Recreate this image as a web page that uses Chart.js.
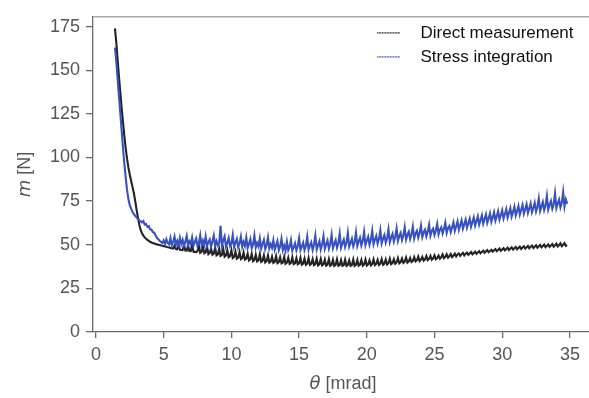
<!DOCTYPE html>
<html>
<head>
<meta charset="utf-8">
<script src="https://cdn.jsdelivr.net/npm/chart.js@4/dist/chart.umd.min.js"></script>
<style>
  html, body { margin: 0; padding: 0; background: #ffffff; }
  #plot { display: block; }
</style>
</head>
<body>
<canvas id="plot" width="589" height="398"></canvas>
<script>
// Rotation angle theta [mrad]
const theta = [
  1.4, 1.5, 1.6, 1.7, 1.8, 1.9, 2.0, 2.1, 2.2, 2.3,
  2.4, 2.5, 2.6, 2.7, 2.8, 2.9, 3.0, 3.1, 3.2, 3.3,
  3.4, 3.5, 3.6, 3.7, 3.8, 3.9, 4.0, 4.1, 4.2, 4.3,
  4.4, 4.5, 4.6, 4.7, 4.8, 4.9, 5.0, 5.1, 5.2, 5.3,
  5.4, 5.5, 5.6, 5.7, 5.8, 5.9, 6.0, 6.1, 6.2, 6.3,
  6.4, 6.5, 6.6, 6.7, 6.8, 6.9, 7.0, 7.1, 7.2, 7.3,
  7.4, 7.5, 7.6, 7.7, 7.8, 7.9, 8.0, 8.1, 8.2, 8.3,
  8.4, 8.5, 8.6, 8.7, 8.8, 8.9, 9.0, 9.1, 9.2, 9.3,
  9.4, 9.5, 9.6, 9.7, 9.8, 9.9, 10.0, 10.1, 10.2, 10.3,
  10.4, 10.5, 10.6, 10.7, 10.8, 10.9, 11.0, 11.1, 11.2, 11.3,
  11.4, 11.5, 11.6, 11.7, 11.8, 11.9, 12.0, 12.1, 12.2, 12.3,
  12.4, 12.5, 12.6, 12.7, 12.8, 12.9, 13.0, 13.1, 13.2, 13.3,
  13.4, 13.5, 13.6, 13.7, 13.8, 13.9, 14.0, 14.1, 14.2, 14.3,
  14.4, 14.5, 14.6, 14.7, 14.8, 14.9, 15.0, 15.1, 15.2, 15.3,
  15.4, 15.5, 15.6, 15.7, 15.8, 15.9, 16.0, 16.1, 16.2, 16.3,
  16.4, 16.5, 16.6, 16.7, 16.8, 16.9, 17.0, 17.1, 17.2, 17.3,
  17.4, 17.5, 17.6, 17.7, 17.8, 17.9, 18.0, 18.1, 18.2, 18.3,
  18.4, 18.5, 18.6, 18.7, 18.8, 18.9, 19.0, 19.1, 19.2, 19.3,
  19.4, 19.5, 19.6, 19.7, 19.8, 19.9, 20.0, 20.1, 20.2, 20.3,
  20.4, 20.5, 20.6, 20.7, 20.8, 20.9, 21.0, 21.1, 21.2, 21.3,
  21.4, 21.5, 21.6, 21.7, 21.8, 21.9, 22.0, 22.1, 22.2, 22.3,
  22.4, 22.5, 22.6, 22.7, 22.8, 22.9, 23.0, 23.1, 23.2, 23.3,
  23.4, 23.5, 23.6, 23.7, 23.8, 23.9, 24.0, 24.1, 24.2, 24.3,
  24.4, 24.5, 24.6, 24.7, 24.8, 24.9, 25.0, 25.1, 25.2, 25.3,
  25.4, 25.5, 25.6, 25.7, 25.8, 25.9, 26.0, 26.1, 26.2, 26.3,
  26.4, 26.5, 26.6, 26.7, 26.8, 26.9, 27.0, 27.1, 27.2, 27.3,
  27.4, 27.5, 27.6, 27.7, 27.8, 27.9, 28.0, 28.1, 28.2, 28.3,
  28.4, 28.5, 28.6, 28.7, 28.8, 28.9, 29.0, 29.1, 29.2, 29.3,
  29.4, 29.5, 29.6, 29.7, 29.8, 29.9, 30.0, 30.1, 30.2, 30.3,
  30.4, 30.5, 30.6, 30.7, 30.8, 30.9, 31.0, 31.1, 31.2, 31.3,
  31.4, 31.5, 31.6, 31.7, 31.8, 31.9, 32.0, 32.1, 32.2, 32.3,
  32.4, 32.5, 32.6, 32.7, 32.8, 32.9, 33.0, 33.1, 33.2, 33.3,
  33.4, 33.5, 33.6, 33.7, 33.8, 33.9, 34.0, 34.1, 34.2, 34.3,
  34.4, 34.5, 34.6, 34.7, 34.8
];

// Moment m [N] from the direct measurement
const directMeasurement = [
  174, 166, 156, 146, 137, 128, 120, 112, 105, 99,
  94, 90, 86.5, 83, 79.5, 75, 70, 65.5, 61.5, 58.5,
  56.5, 55.2, 54.2, 53.4, 52.8, 52.2, 51.7, 51.3, 51.0, 50.7,
  50.4, 50.2, 50.0, 49.8, 49.6, 49.4, 49.2, 49.0, 48.8, 48.6,
  48.4, 48.2, 48.0, 47.8, 49.5, 47.5, 47.4, 49.8, 47.1, 47.0,
  46.9, 50.0, 46.7, 46.6, 49.6, 46.4, 46.3, 49.9, 46.0, 45.9,
  45.8, 46.4, 49.5, 45.4, 46.0, 48.8, 45.1, 45.6, 49.2, 44.6,
  45.3, 47.9, 44.3, 44.9, 48.4, 43.9, 44.5, 47.6, 43.6, 44.2,
  47.5, 43.1, 43.8, 46.8, 42.8, 43.4, 46.9, 42.4, 43.0, 46.1,
  42.0, 42.6, 45.8, 41.7, 42.3, 45.5, 41.4, 42.0, 44.9, 41.0,
  41.7, 44.8, 40.6, 41.3, 44.3, 40.4, 41.0, 44.6, 40.2, 40.8,
  43.9, 39.9, 40.6, 43.8, 39.7, 40.3, 43.2, 39.6, 40.2, 43.5,
  39.4, 40.0, 42.9, 39.3, 39.8, 43.1, 39.1, 39.7, 42.6, 39.0,
  39.6, 42.8, 38.9, 39.4, 42.3, 38.8, 39.3, 42.5, 38.6, 39.2,
  42.1, 38.5, 39.1, 42.4, 38.4, 39.0, 41.8, 38.3, 38.9, 42.0,
  38.2, 38.8, 41.9, 38.1, 38.7, 41.5, 38.0, 38.6, 41.8, 38.0,
  38.5, 41.4, 37.9, 38.5, 41.7, 37.9, 38.4, 41.2, 37.9, 38.4,
  41.5, 37.9, 38.5, 41.0, 37.9, 38.4, 41.6, 37.9, 38.5, 41.3,
  38.0, 38.6, 41.2, 38.0, 38.7, 41.5, 38.1, 38.8, 41.1, 38.2,
  38.9, 41.6, 38.3, 39.0, 41.3, 38.4, 39.1, 41.8, 38.5, 39.2,
  41.6, 38.7, 39.4, 42.0, 38.9, 39.5, 41.7, 39.1, 39.8, 42.3,
  39.3, 40.0, 42.1, 39.6, 40.3, 42.6, 39.8, 40.5, 42.4, 40.1,
  40.8, 42.9, 40.4, 41.1, 43.2, 40.6, 41.4, 43.0, 40.9, 41.6,
  43.5, 41.2, 41.9, 43.6, 41.4, 42.1, 43.9, 41.7, 42.4, 43.8,
  42.0, 42.8, 44.4, 42.3, 43.0, 44.5, 42.6, 43.4, 44.7, 42.9,
  43.8, 44.9, 43.3, 44.4, 45.0, 43.6, 44.6, 45.3, 43.9, 44.8,
  45.5, 44.2, 45.0, 45.8, 44.5, 45.3, 46.0, 44.8, 45.6, 46.3,
  45.1, 45.9, 46.6, 45.4, 46.2, 46.9, 45.7, 46.4, 47.1, 46.0,
  46.8, 47.5, 46.3, 47.0, 47.8, 46.5, 47.3, 48.0, 46.8, 47.6,
  48.3, 47.0, 47.8, 48.5, 47.2, 48.0, 48.7, 47.4, 48.2, 48.9,
  47.6, 48.4, 49.1, 47.8, 48.6, 49.3, 48.0, 48.8, 49.5, 48.1,
  48.9, 49.7, 48.3, 49.1, 49.9, 48.5, 49.3, 50.1, 48.6, 49.4,
  50.2, 48.8, 49.6, 50.4, 48.9, 49.7, 50.6, 49.0, 49.8, 50.8,
  49.2, 50.0, 50.9, 49.4, 49.8
];

// Moment m [N] obtained by integrating the stress field
const stressIntegration = [
  163, 155, 145, 135, 125, 115, 105, 96, 88, 81,
  76, 72.5, 70.5, 68.8, 67.5, 66.5, 65.6, 64.8, 64.0, 63.4,
  62.8, 63.5, 61.5, 61.8, 60.2, 60.6, 58.8, 58.6, 57.2, 56.9,
  55.4, 54.0, 53.2, 52.3, 51.6, 51.0, 52.5, 50.4, 53.2, 51.0,
  50.2, 53.8, 49.8, 51.5, 54.6, 50.0, 52.2, 49.6, 53.9, 50.4,
  52.8, 49.4, 51.6, 55.0, 49.8, 52.0, 50.3, 54.2, 49.5, 51.8,
  53.6, 49.2, 50.9, 55.4, 49.7, 52.4, 50.1, 54.8, 49.3, 51.5,
  53.0, 48.9, 51.8, 55.2, 49.4, 52.1, 49.6, 51.2, 60.8, 49.3,
  52.6, 54.8, 48.8, 51.0, 53.9, 49.2, 50.6, 55.6, 48.7, 51.3,
  53.4, 48.5, 50.8, 54.7, 48.9, 51.6, 49.3, 54.1, 48.2, 50.5,
  53.2, 48.0, 50.2, 55.3, 48.4, 51.0, 49.0, 53.6, 47.8, 50.4,
  52.8, 47.5, 49.8, 54.2, 47.9, 50.3, 48.2, 52.5, 47.2, 49.6,
  52.1, 46.8, 49.0, 53.4, 47.0, 49.5, 46.6, 51.8, 46.9, 48.8,
  52.6, 46.5, 48.7, 50.9, 46.8, 49.3, 53.8, 47.0, 49.1, 51.2,
  46.9, 49.4, 54.6, 47.2, 49.6, 51.4, 47.0, 50.0, 55.2, 47.4,
  49.8, 52.0, 47.3, 50.2, 54.9, 47.6, 50.1, 52.4, 47.8, 50.6,
  55.7, 48.0, 50.4, 52.6, 48.3, 51.0, 56.3, 48.4, 50.8, 53.0,
  48.6, 51.3, 56.8, 48.9, 51.0, 53.4, 49.1, 51.6, 57.0, 49.3,
  51.9, 54.0, 49.5, 52.2, 57.4, 49.8, 52.4, 54.6, 50.0, 52.8,
  57.9, 50.3, 53.0, 55.0, 50.6, 53.3, 58.2, 50.8, 53.5, 55.6,
  51.2, 53.9, 58.8, 51.5, 54.2, 56.2, 51.8, 54.6, 59.3, 52.2,
  54.9, 56.8, 52.6, 55.3, 60.0, 53.0, 55.6, 57.4, 53.3, 56.0,
  60.4, 53.6, 56.4, 58.0, 54.0, 56.8, 61.0, 54.4, 57.1, 58.6,
  54.8, 57.5, 61.5, 55.2, 57.9, 59.2, 55.6, 58.3, 62.0, 56.0,
  58.7, 60.0, 56.4, 59.1, 62.6, 56.8, 59.6, 60.8, 57.2, 60.0,
  62.8, 58.0, 60.6, 63.4, 58.6, 61.2, 64.0, 59.2, 61.8, 64.4,
  59.8, 62.4, 65.0, 60.3, 63.0, 65.6, 60.9, 63.5, 66.3, 61.5,
  64.1, 66.8, 62.0, 64.7, 67.4, 62.6, 65.2, 68.0, 63.2, 65.8,
  68.6, 63.8, 66.4, 69.2, 64.4, 67.0, 69.8, 65.0, 67.6, 70.4,
  65.6, 68.2, 71.0, 66.2, 68.8, 71.8, 66.8, 69.4, 72.2, 67.3,
  70.0, 72.8, 67.8, 70.4, 73.2, 68.2, 70.8, 73.6, 68.6, 71.2,
  74.0, 69.0, 71.6, 76.5, 69.4, 72.0, 74.5, 69.8, 72.4, 78.0,
  70.2, 72.8, 75.0, 70.6, 73.2, 79.5, 71.0, 73.6, 75.8, 71.4,
  74.0, 80.2, 71.8, 76.0, 73.5
];

const seriesNames = ['Direct measurement', 'Stress integration'];
const seriesColors = ['#232323', '#3751c3'];
const xTickValues = [0, 5, 10, 15, 20, 25, 30, 35];
const yTickValues = [0, 25, 50, 75, 100, 125, 150, 175];

const TICK_FONT = { family: '"Liberation Sans", Arial, sans-serif', size: 18 };
const AXIS_GREY = '#6a6a6a';
const TEXT_GREY = '#555555';

// Short dotted strokes used as legend swatches
function dottedSwatch(color) {
  const c = document.createElement('canvas');
  c.width = 24; c.height = 2;
  const g = c.getContext('2d');
  g.fillStyle = color;
  for (let x = 0; x < 24; x += 2.7) g.fillRect(x, 0, 1.4, 1.6);
  return c;
}
const swatches = seriesColors.map(dottedSwatch);

// Top frame line plus the axis titles (italic symbol + upright unit)
const frameAndTitles = {
  id: 'frameAndTitles',
  afterLayout(chart) {
    const a = chart.chartArea;
    chart.legend.left = a.right - 231;
    chart.legend.top = a.top + 1;
  },
  afterDraw(chart) {
    const { ctx, chartArea: a } = chart;
    ctx.save();
    ctx.strokeStyle = '#a9a9a9';
    ctx.lineWidth = 1.5;
    ctx.beginPath();
    ctx.moveTo(a.left, a.top);
    ctx.lineTo(a.right, a.top);
    ctx.stroke();

    const italic = 'italic 18px "DejaVu Sans", sans-serif';
    const upright = '18px "Liberation Sans", Arial, sans-serif';
    const drawParts = (parts, cx, cy) => {
      let total = 0;
      parts.forEach(p => { ctx.font = p[1]; total += ctx.measureText(p[0]).width; });
      let x = cx - total / 2;
      parts.forEach(p => { ctx.font = p[1]; ctx.fillText(p[0], x, cy); x += ctx.measureText(p[0]).width; });
    };
    ctx.fillStyle = TEXT_GREY;
    ctx.textBaseline = 'middle';
    ctx.textAlign = 'left';
    drawParts([['θ', italic], [' [mrad]', upright]], (a.left + a.right) / 2 + 2, 384);

    ctx.translate(25, (a.top + a.bottom) / 2);
    ctx.rotate(-Math.PI / 2);
    drawParts([['m', italic], [' [N]', upright]], 0, 0);
    ctx.restore();
  }
};

const points = ys => theta.map((t, i) => ({ x: t, y: ys[i] }));

new Chart(document.getElementById('plot'), {
  type: 'line',
  data: {
    datasets: [
      { label: seriesNames[0], data: points(directMeasurement), borderColor: seriesColors[0],
        borderWidth: 2.1, pointRadius: 0, tension: 0, order: 1 },
      { label: seriesNames[1], data: points(stressIntegration), borderColor: seriesColors[1],
        borderWidth: 2.1, pointRadius: 0, tension: 0, order: 0 }
    ]
  },
  options: {
    responsive: false,
    animation: false,
    layout: { padding: { top: 10, right: 0, bottom: 0, left: 0 } },
    scales: {
      x: {
        type: 'linear',
        min: -0.22,
        max: 36.41,
        afterBuildTicks: s => { s.ticks = xTickValues.map(v => ({ value: v })); },
        afterFit: s => { s.height = 66; },
        border: { color: AXIS_GREY, width: 1.3 },
        grid: { drawOnChartArea: false, drawTicks: true, tickLength: 6, color: AXIS_GREY, lineWidth: 1.3 },
        ticks: { font: TICK_FONT, color: TEXT_GREY, padding: 6, maxRotation: 0 }
      },
      y: {
        type: 'linear',
        min: 0,
        max: 180.6,
        afterBuildTicks: s => { s.ticks = yTickValues.map(v => ({ value: v })); },
        afterFit: s => { s.width = 93; },
        border: { color: AXIS_GREY, width: 1.3 },
        grid: { drawOnChartArea: false, drawTicks: true, tickLength: 7, color: AXIS_GREY, lineWidth: 1.3 },
        ticks: { font: TICK_FONT, color: TEXT_GREY, padding: 6 }
      }
    },
    plugins: {
      tooltip: { enabled: false },
      legend: {
        position: 'chartArea',
        align: 'start',
        labels: {
          usePointStyle: true,
          pointStyleWidth: 47,
          boxHeight: 17,
          padding: 7,
          color: '#111111',
          font: { family: '"Liberation Sans", Arial, sans-serif', size: 17 },
          generateLabels: chart => chart.data.datasets.map((ds, i) => ({
            text: ds.label,
            fillStyle: ds.borderColor,
            strokeStyle: ds.borderColor,
            lineWidth: 0,
            pointStyle: swatches[i],
            fontColor: '#111111',
            hidden: false,
            datasetIndex: i
          }))
        }
      }
    }
  },
  plugins: [frameAndTitles]
});
</script>
</body>
</html>
